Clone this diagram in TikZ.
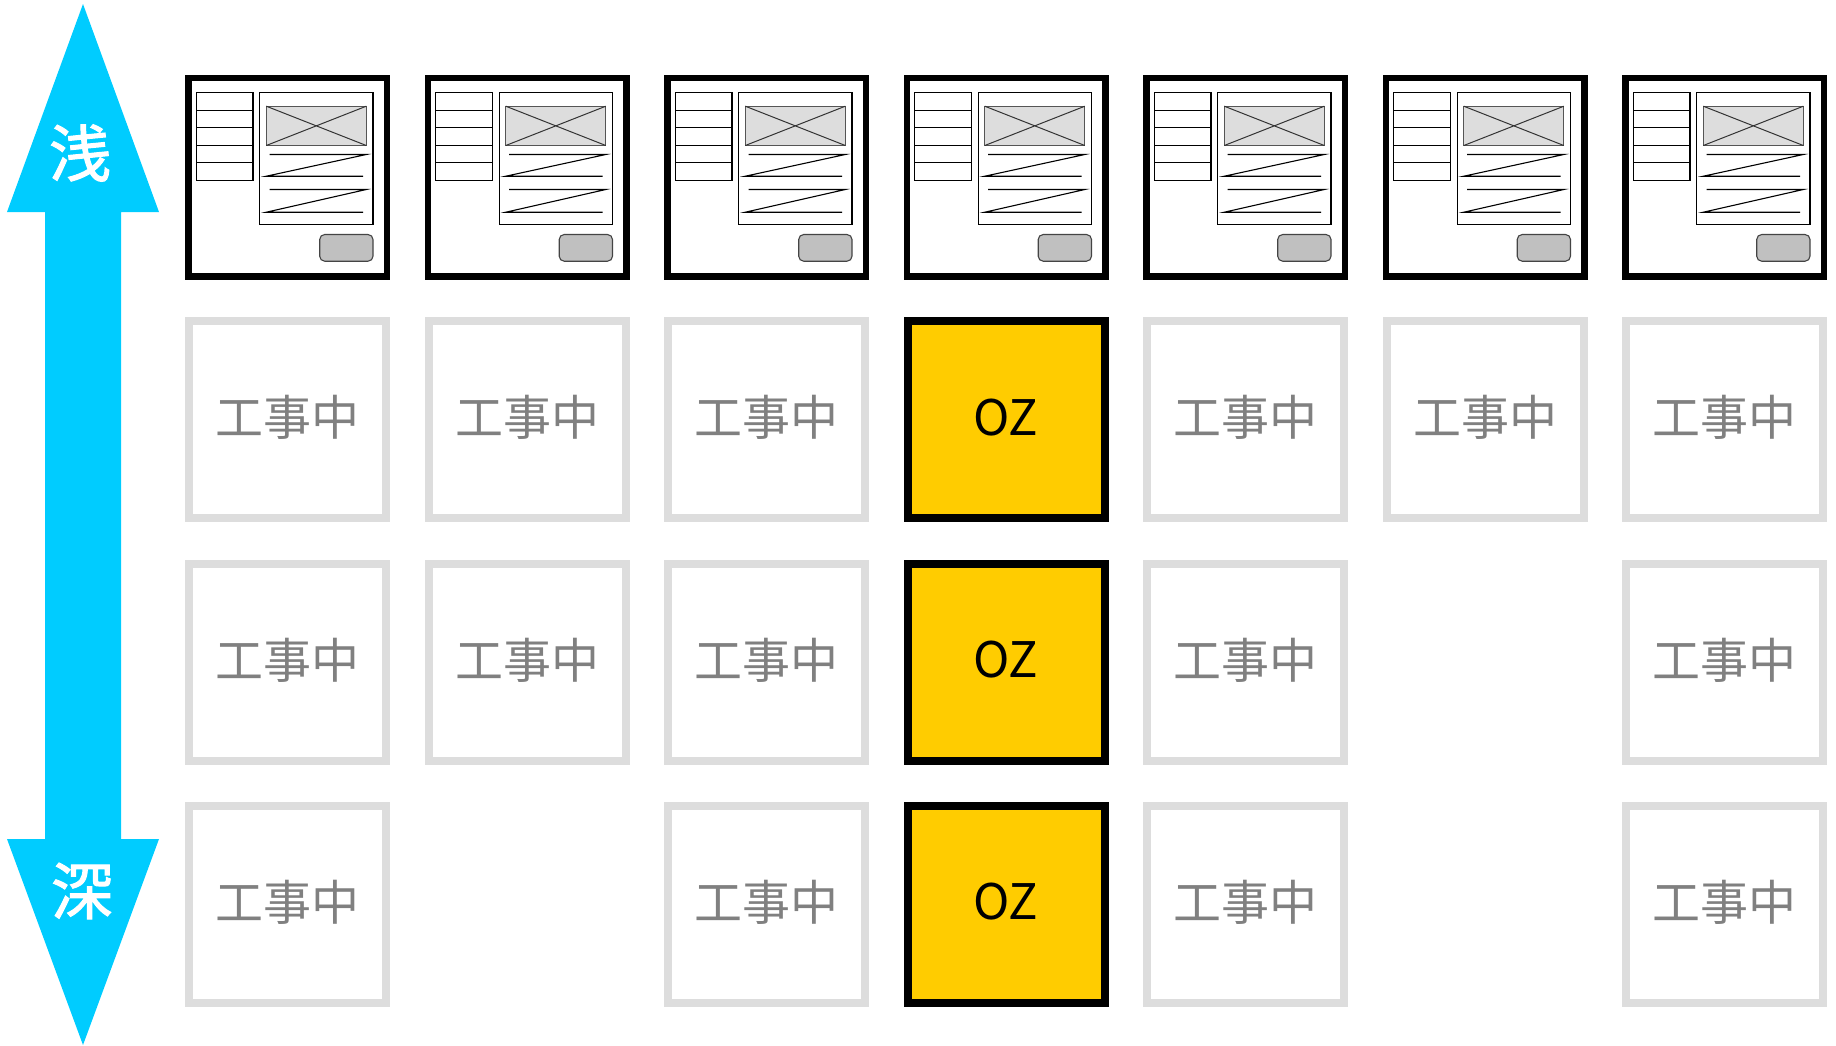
\documentclass[tikz,border=0pt]{standalone}
\usepackage{fontspec}
\setmainfont{Noto Sans CJK JP}
\newfontfamily\depthfont[FakeBold=1.6]{Noto Sans CJK JP}

\definecolor{skyarrow}{HTML}{00CCFF}
\definecolor{ozfill}{HTML}{FFCC00}
\definecolor{wipline}{HTML}{DDDDDD}
\definecolor{wiptext}{HTML}{808080}
\definecolor{imgfill}{HTML}{DDDDDD}
\definecolor{imgedge}{HTML}{555555}
\definecolor{btnfill}{HTML}{C0C0C0}
\definecolor{btnedge}{HTML}{444444}

\tikzset{
  pagebox/.style={draw=black, fill=white, line width=6.5pt, minimum size=198.5pt, inner sep=0pt},
  wipbox/.style={draw=wipline, fill=white, line width=8pt, minimum size=197pt, inner sep=0pt},
  ozbox/.style={draw=black, fill=ozfill, line width=8pt, minimum size=197pt, inner sep=0pt},
  wiptext/.style={text=wiptext, inner sep=0pt, font=\fontsize{48pt}{52pt}\selectfont},
  oztext/.style={text=black, inner sep=0pt, font=\fontsize{49pt}{52pt}\selectfont},
  depthlabel/.style={text=white, inner sep=0pt, font=\fontsize{62pt}{64pt}\depthfont},
  wire/.style={draw=black, line width=1.1pt},
  imgbox/.style={draw=imgedge, fill=imgfill, line width=1.3pt},
  imgcross/.style={draw=black!80, line width=1pt},
  btn/.style={draw=btnedge, fill=btnfill, line width=1.1pt, rounded corners=5pt},
}

% a grid cell: frame plus its centred caption, nudged up slightly
\newcommand\wipcell[2]{%
  \node[wipbox] (#1) at (#2) {};
  \node[wiptext] (#1-text) at ([yshift=2pt]#1.center) {工事中};}
\newcommand\ozcell[2]{%
  \node[ozbox] (#1) at (#2) {};
  \node[oztext] (#1-text) at ([yshift=2pt]#1.center) {OZ};}

\begin{document}
\begin{tikzpicture}[x=1pt, y=-1pt]
\useasboundingbox (0,0) rectangle (1836,1045);

% depth axis: double-headed arrow
\fill[skyarrow] (83,4) -- (159,212) -- (121,212) -- (121,839) -- (159,839)
  -- (83,1045) -- (7,839) -- (45,839) -- (45,212) -- (7,212) -- cycle;
\node[depthlabel] (shallow) at (80,153) {浅};
\node[depthlabel] (deep) at (82,891) {深};

% top row: page mock-ups
\foreach \c in {1,...,7} {
  \pgfmathsetmacro\cx{287.5+239.5*(\c-1)}
  \node[pagebox] (page\c) at (\cx,177) {};
  \begin{scope}[shift={(\cx-102.5,74.5)}]
    % menu list
    \draw[wire] (11.3,18.3) rectangle (68,105.8);
    \foreach \k in {1,...,4}
      \draw[wire] (11.3,18.3+17.5*\k) -- (68,18.3+17.5*\k);
    % content panel
    \draw[wire] (74.7,18.3) rectangle (188,150.3);
    \draw[imgbox] (81.3,31.7) rectangle (181.3,71);
    \draw[imgcross] (81.3,31.7) -- (181.3,71) (81.3,71) -- (181.3,31.7);
    \draw[wire] (84.7,80) -- (181.3,80) -- (81.3,101.7) -- (178,101.7);
    \draw[wire] (84.7,115) -- (181.3,115) -- (81.3,137.7) -- (178,137.7);
    % button
    \draw[btn] (134.7,160) rectangle (188,186.7);
  \end{scope}
}

% second row
\wipcell{r2c1}{287.5,419.5}
\wipcell{r2c2}{527,419.5}
\wipcell{r2c3}{766.5,419.5}
\ozcell{r2c4}{1006,419.5}
\wipcell{r2c5}{1245.5,419.5}
\wipcell{r2c6}{1485,419.5}
\wipcell{r2c7}{1724.5,419.5}

% third row
\wipcell{r3c1}{287.5,662}
\wipcell{r3c2}{527,662}
\wipcell{r3c3}{766.5,662}
\ozcell{r3c4}{1006,662}
\wipcell{r3c5}{1245.5,662}
\wipcell{r3c7}{1724.5,662}

% fourth row
\wipcell{r4c1}{287.5,904}
\wipcell{r4c3}{766.5,904}
\ozcell{r4c4}{1006,904}
\wipcell{r4c5}{1245.5,904}
\wipcell{r4c7}{1724.5,904}
\end{tikzpicture}
\end{document}
